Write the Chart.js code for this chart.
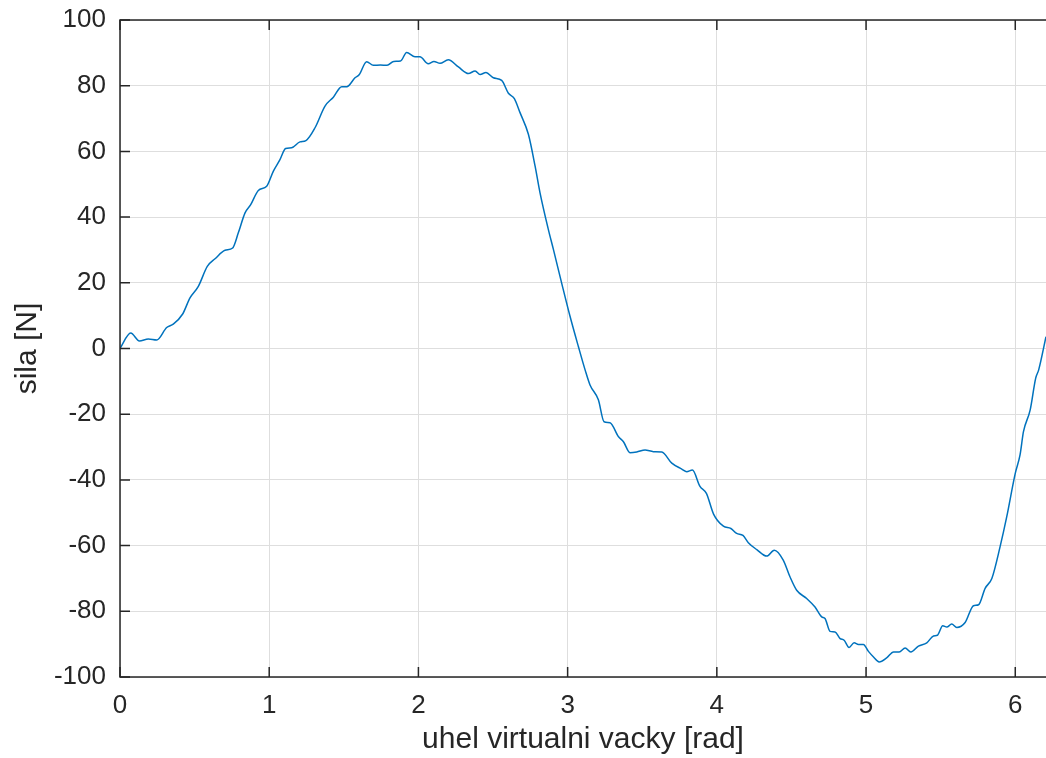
<!DOCTYPE html>
<html lang="cs">
<head>
  <meta charset="UTF-8">
  <title>sila vs uhel virtualni vacky</title>
  <script src="https://cdn.jsdelivr.net/npm/chart.js"></script>
  <style>
    body { margin: 0; background: #fff; }
    canvas { display: block; }
  </style>
</head>
<body>
  <canvas id="force-chart" width="1046" height="758"></canvas>

  <script>
    // angle [rad] and force [N]
    const angle = [
      0, 0.072, 0.13, 0.19, 0.246, 0.313, 0.357, 0.42, 0.469, 0.525,
      0.585, 0.637, 0.704, 0.755, 0.793, 0.838, 0.876, 0.927, 0.983, 1.028,
      1.072, 1.11, 1.15, 1.206, 1.246, 1.307, 1.374, 1.43, 1.486, 1.52,
      1.575, 1.604, 1.653, 1.698, 1.745, 1.79, 1.834, 1.88, 1.921, 1.977,
      2.01, 2.066, 2.104, 2.145, 2.2, 2.268, 2.335, 2.38, 2.413, 2.453,
      2.502, 2.558, 2.603, 2.643, 2.681, 2.737, 2.782, 2.815, 2.871, 2.905,
      2.96, 3.016, 3.072, 3.117, 3.15, 3.206, 3.244, 3.284, 3.34, 3.374,
      3.418, 3.463, 3.519, 3.575, 3.631, 3.698, 3.765, 3.798, 3.836, 3.887,
      3.93, 3.978, 4.044, 4.094, 4.133, 4.175, 4.211, 4.27, 4.334, 4.385,
      4.445, 4.49, 4.535, 4.602, 4.658, 4.703, 4.725, 4.759, 4.792, 4.826,
      4.853, 4.886, 4.92, 4.949, 4.982, 5.016, 5.05, 5.088, 5.14, 5.184,
      5.222, 5.262, 5.3, 5.351, 5.407, 5.452, 5.478, 5.514, 5.541, 5.574,
      5.608, 5.664, 5.72, 5.754, 5.798, 5.843, 5.898, 5.943, 6.0, 6.032,
      6.055, 6.1, 6.137, 6.157, 6.206
    ];
    const force = [
      0, 4.7, 2.3, 2.9, 2.6, 6.4, 7.4, 10.5, 15.4, 18.9,
      25, 27.3, 29.9, 30.6, 35.2, 41.3, 43.8, 48.1, 49.4, 54,
      57.5, 60.9, 61.1, 62.9, 63.3, 67.2, 73.8, 76.5, 79.7, 79.7,
      82.4, 83.4, 87.3, 86.2, 86.3, 86.2, 87.4, 87.5, 90.1, 88.8,
      88.8, 86.7, 87.4, 86.8, 87.9, 85.7, 83.7, 84.5, 83.4, 84,
      82.4, 81.6, 77.7, 76.1, 71.8, 65.2, 55.5, 47.4, 36.2, 30.1,
      19.9, 9.8, 0.6, -6.5, -11.1, -15.6, -22.3, -22.6, -26.8, -28.4,
      -31.7, -31.5, -30.9, -31.4, -31.5, -34.9, -36.7, -37.5, -37, -42,
      -44.1, -50.4, -54.1, -54.8, -56.3, -56.9, -59.1, -61.3, -63.2, -61.4,
      -64.4, -69.5, -73.6, -76.1, -78.7, -81.7, -82.2, -86.1, -86.3, -88.3,
      -88.8, -91, -89.6, -90.1, -90.1, -92.2, -93.9, -95.4, -94.1, -92.4,
      -92.4, -91.2, -92.4, -90.6, -89.6, -87.5, -87.3, -84.4, -84.8, -83.9,
      -84.9, -83.4, -78.3, -78, -73, -70, -60.4, -51.2, -38, -32.4,
      -25.3, -18.7, -9, -6.5, 3.6
    ];
    const xTicks = [0, 1, 2, 3, 4, 5, 6];
    const yTicks = [-100, -80, -60, -40, -20, 0, 20, 40, 60, 80, 100];

    const axisColor = '#262626';
    const fontFamily = '"Liberation Sans", Arial, Helvetica, sans-serif';

    // MATLAB style box with inward tick marks
    const boxPlugin = {
      id: 'matlabBox',
      afterDraw(chart) {
        const { ctx, chartArea: a, scales } = chart;
        const len = 10;
        ctx.save();
        ctx.strokeStyle = axisColor;
        ctx.lineWidth = 1.5;
        ctx.strokeRect(a.left, a.top, a.right - a.left + 2, a.bottom - a.top);
        ctx.beginPath();
        xTicks.forEach(v => {
          const px = scales.x.getPixelForValue(v);
          ctx.moveTo(px, a.bottom); ctx.lineTo(px, a.bottom - len);
          ctx.moveTo(px, a.top); ctx.lineTo(px, a.top + len);
        });
        yTicks.forEach(v => {
          const py = scales.y.getPixelForValue(v);
          ctx.moveTo(a.left, py); ctx.lineTo(a.left + len, py);
        });
        ctx.stroke();
        ctx.restore();
      }
    };

    document.addEventListener('DOMContentLoaded', () => {
      const ctx = document.getElementById('force-chart').getContext('2d');

      new Chart(ctx, {
        type: 'line',
        data: {
          datasets: [{
            data: angle.map((a, i) => ({ x: a, y: force[i] })),
            borderColor: '#0072BD',
            borderWidth: 1.5,
            pointRadius: 0,
            fill: false,
            cubicInterpolationMode: 'monotone',
          }],
        },
        options: {
          responsive: false,
          animation: false,
          layout: { padding: { top: 20, right: 0, left: 0, bottom: 0 } },
          plugins: {
            legend: { display: false },
            tooltip: { enabled: false },
          },
          scales: {
            x: {
              type: 'linear',
              min: 0,
              max: 6.206,
              afterFit: s => { s.height = 81; s.paddingLeft = 0; s.paddingRight = 0; },
              grid: { color: '#dedede', lineWidth: 1, drawTicks: false },
              border: { display: false },
              ticks: {
                stepSize: 1,
                includeBounds: false,
                padding: 13,
                color: axisColor,
                font: { family: fontFamily, size: 26 },
                maxRotation: 0,
              },
              title: {
                display: true,
                text: 'uhel virtualni vacky [rad]',
                color: axisColor,
                font: { family: fontFamily, size: 30 },
                padding: { top: 0, bottom: 0 },
              },
            },
            y: {
              type: 'linear',
              min: -100,
              max: 100,
              afterFit: s => { s.width = 120; s.paddingTop = 0; s.paddingBottom = 0; },
              grid: { color: '#dedede', lineWidth: 1, drawTicks: false },
              border: { display: false },
              ticks: {
                stepSize: 20,
                padding: 14,
                color: axisColor,
                font: { family: fontFamily, size: 26 },
              },
              title: {
                display: true,
                text: 'sila [N]',
                color: axisColor,
                font: { family: fontFamily, size: 30 },
                padding: { top: 10, bottom: 0 },
              },
            },
          },
        },
        plugins: [boxPlugin],
      });
    });
  </script>
</body>
</html>
